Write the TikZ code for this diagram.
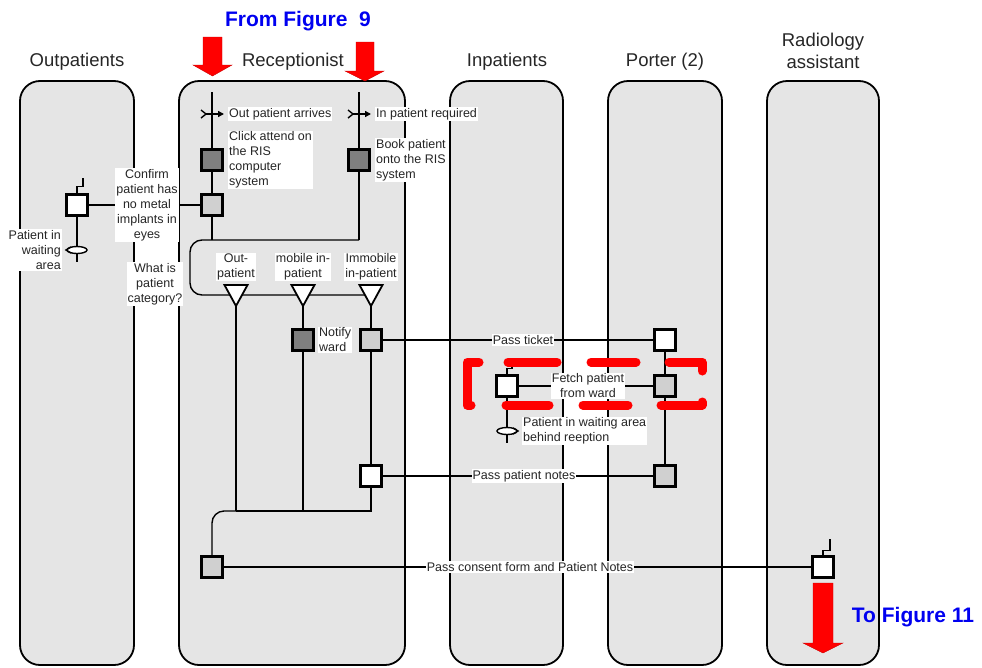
\documentclass[tikz,border=0pt]{standalone}
\usepackage{fontspec}
\setmainfont{Liberation Sans}
\usetikzlibrary{arrows.meta}
\definecolor{lanefill}{HTML}{E5E5E5}
\definecolor{darkbox}{HTML}{7F7F7F}
\definecolor{hatch}{HTML}{D0D0D0}
\definecolor{figblue}{HTML}{0000F0}
\begin{document}
\begin{tikzpicture}[x=1pt,y=-1pt,
 lane/.style={draw=black, fill=lanefill, line width=1.8pt, rounded corners=20pt},
 title/.style={font=\fontsize{18.5}{22}\selectfont, align=center, text=black!85, inner sep=0pt},
 lbl/.style={font=\fontsize{12.5}{15}\selectfont, fill=white, inner sep=1pt, text=black!85},
 boxbase/.style={draw=black, line width=2.6pt, minimum size=21pt, inner sep=0pt},
 wbox/.style={boxbase, fill=white},
 dbox/.style={boxbase, fill=darkbox},
 hbox/.style={boxbase, fill=hatch},
 conn/.style={draw=black, line width=1.4pt},
 tri/.style={draw=black, fill=white, line width=1.8pt, line join=miter},
 redarrow/.style={fill=red, draw=red!80!black, line width=0.4pt},
 figlbl/.style={font=\bfseries\fontsize{21}{25}\selectfont, text=figblue, inner sep=0pt},
 reddash/.style={draw=red, line width=9pt, line cap=round, line join=round},
]
\useasboundingbox (0,0) rectangle (982,667);
% lanes
\path[lane] (20,81) rectangle (134,665);
\path[lane] (179,81) rectangle (405,665);
\path[lane] (450,81) rectangle (563,665);
\path[lane] (608,81) rectangle (722,665);
\path[lane] (767,81) rectangle (879,665);
% titles
\node[title] (tOut) at (77,62) {Outpatients};
\node[title] (tRec) at (293,62) {Receptionist};
\node[title] (tIn) at (507,62) {Inpatients};
\node[title] (tPor) at (665,62) {Porter (2)};
\node[title] (tRad) at (823,51) {Radiology\\assistant};
\node[figlbl] (fromfig) at (298,21) {From Figure\ \ 9};
\node[figlbl] (tofig) at (913,617) {To Figure 11};
% red arrows
\path[redarrow] (203,37) -- (222,37) -- (222,65) -- (232,65) -- (212.5,76) -- (193,65) -- (203,65) -- cycle;
\path[redarrow] (356,42) -- (374,42) -- (374,71) -- (384,71) -- (365,81) -- (345,71) -- (356,71) -- cycle;
\path[redarrow] (813,583) -- (833,583) -- (833,643) -- (843,643) -- (823,653) -- (803,643) -- (813,643) -- cycle;
% receptionist
\coordinate (rLtop) at (212,92);
\coordinate (rRtop) at (359,92);
\coordinate (rJ) at (212,240);
\coordinate (rK) at (359,240);
\node[dbox] (rA) at (212,160) {};
\node[hbox] (rB) at (212,205) {};
\node[dbox] (rC) at (359,160) {};
\draw[conn] (rLtop) -- (rA);
\draw[conn] (rA) -- (rB);
\draw[conn] (rB) -- (rJ);
\draw[conn] (rRtop) -- (rC);
\draw[conn] (rC) -- (rK);
\draw[conn, rounded corners=12pt] (rK) -- (190,240) -- (190,295) -- (371,295);
\foreach \x/\n in {236/t1, 303/t2, 371/t3} {
  \draw[tri] (\x-11.5,285) -- (\x+11.5,285) -- (\x,306) -- cycle;
  \coordinate (\n) at (\x,306);
}
% events
\draw[conn] (201,110) -- (206,114) -- (201,118);
\draw[conn,-{Triangle[length=6pt,width=6pt]}] (205,114) -- (224,114);
\draw[conn] (348,110) -- (353,114) -- (348,118);
\draw[conn,-{Triangle[length=6pt,width=6pt]}] (352,114) -- (371,114);
% category branches
\node[dbox] (rN) at (303,340) {};
\node[hbox] (rI1) at (371,340) {};
\node[wbox] (rI2) at (371,476) {};
\node[hbox] (rD) at (212,567) {};
\coordinate (m1) at (236,511);
\coordinate (m2) at (303,511);
\coordinate (m3) at (371,511);
\draw[conn] (t1) -- (m1);
\draw[conn] (t2) -- (rN);
\draw[conn] (rN) -- (m2);
\draw[conn] (t3) -- (rI1);
\draw[conn] (rI1) -- (rI2);
\draw[conn] (rI2) -- (m3) -- (m1);
\draw[conn, rounded corners=12pt] (m1) -- (212,511) -- (rD.north);
% outpatients
\node[wbox] (o1) at (77,205) {};
\draw[conn] (o1.north) -- ++(0,-7) -- ++(6,0) -- ++(0,-8);
\coordinate (o1end) at (77,262);
\draw[conn] (o1) -- (o1end);
\draw[conn, fill=white] (77,250) ellipse [x radius=10pt, y radius=3.5pt];
\draw[conn] (71,247) -- (66,250) -- (71,253);
\draw[conn] (o1) -- (rB);
% inpatients
\node[wbox] (i1) at (507,386) {};
\draw[conn] (i1.north) -- ++(0,-6) -- ++(5,0) -- ++(0,-7);
\coordinate (i1end) at (507,443);
\draw[conn] (i1) -- (i1end);
\draw[conn, fill=white] (507,431) ellipse [x radius=10pt, y radius=3.5pt];
\draw[conn] (513,428) -- (518,431) -- (513,434);
% porter
\node[wbox] (p1) at (665,340) {};
\node[hbox] (p2) at (665,386) {};
\node[hbox] (p3) at (665,476) {};
\draw[conn] (p1) -- (p2);
\draw[conn] (p2) -- (p3);
\draw[conn] (rI1) -- (p1);
\draw[conn] (i1) -- (p2);
\draw[conn] (rI2) -- (p3);
% radiology
\node[wbox] (ra1) at (823,567) {};
\draw[conn] (ra1.north) -- ++(0,-5) -- ++(7,0) -- ++(0,-11);
\draw[conn] (rD) -- (ra1);
% red dashed highlight
\draw[reddash] (479,362) -- (467,362) -- (467,405) -- (471,405);
\draw[reddash] (508,362) -- (557,362);
\draw[reddash] (591,362) -- (636,362);
\draw[reddash] (669,362) -- (702,362) -- (702,371);
\draw[reddash] (506,405) -- (549,405);
\draw[reddash] (583,405) -- (628,405);
\draw[reddash] (661,405) -- (702,405) -- (702,402);
% labels
\node[lbl, anchor=west] (lOPA) at (228,114) {Out patient arrives};
\node[lbl, anchor=west] (lIPR) at (375,114) {In patient required};
\node[lbl, anchor=west, align=left] (lClick) at (228,160) {Click attend on\\the RIS\\computer\\system};
\node[lbl, anchor=west, align=left] (lBook) at (375,160) {Book patient\\onto the RIS\\system};
\node[lbl, align=center] (lConf) at (147,205) {Confirm\\patient has\\no metal\\implants in\\eyes};
\node[lbl, anchor=east, align=right] (lWait) at (62,250) {Patient in\\waiting\\area};
\node[lbl, align=center] (lCat) at (155,284) {What is\\patient\\category?};
\node[lbl, align=center] (lOut) at (236,267) {Out-\\patient};
\node[lbl, align=center] (lMob) at (303,267) {mobile in-\\patient};
\node[lbl, align=center] (lImm) at (371,267) {Immobile\\in-patient};
\node[lbl, anchor=west, align=left] (lNot) at (318,340) {Notify\\ward};
\node[lbl] (lTicket) at (523,340) {Pass ticket};
\node[lbl, align=center] (lFetch) at (588,386) {Fetch patient\\from ward};
\node[lbl, anchor=west, align=left] (lWait2) at (522,431) {Patient in waiting area\\behind reeption};
\node[lbl] (lNotes) at (524,476) {Pass patient notes};
\node[lbl] (lConsent) at (530,567) {Pass consent form and Patient Notes};
\end{tikzpicture}
\end{document}
